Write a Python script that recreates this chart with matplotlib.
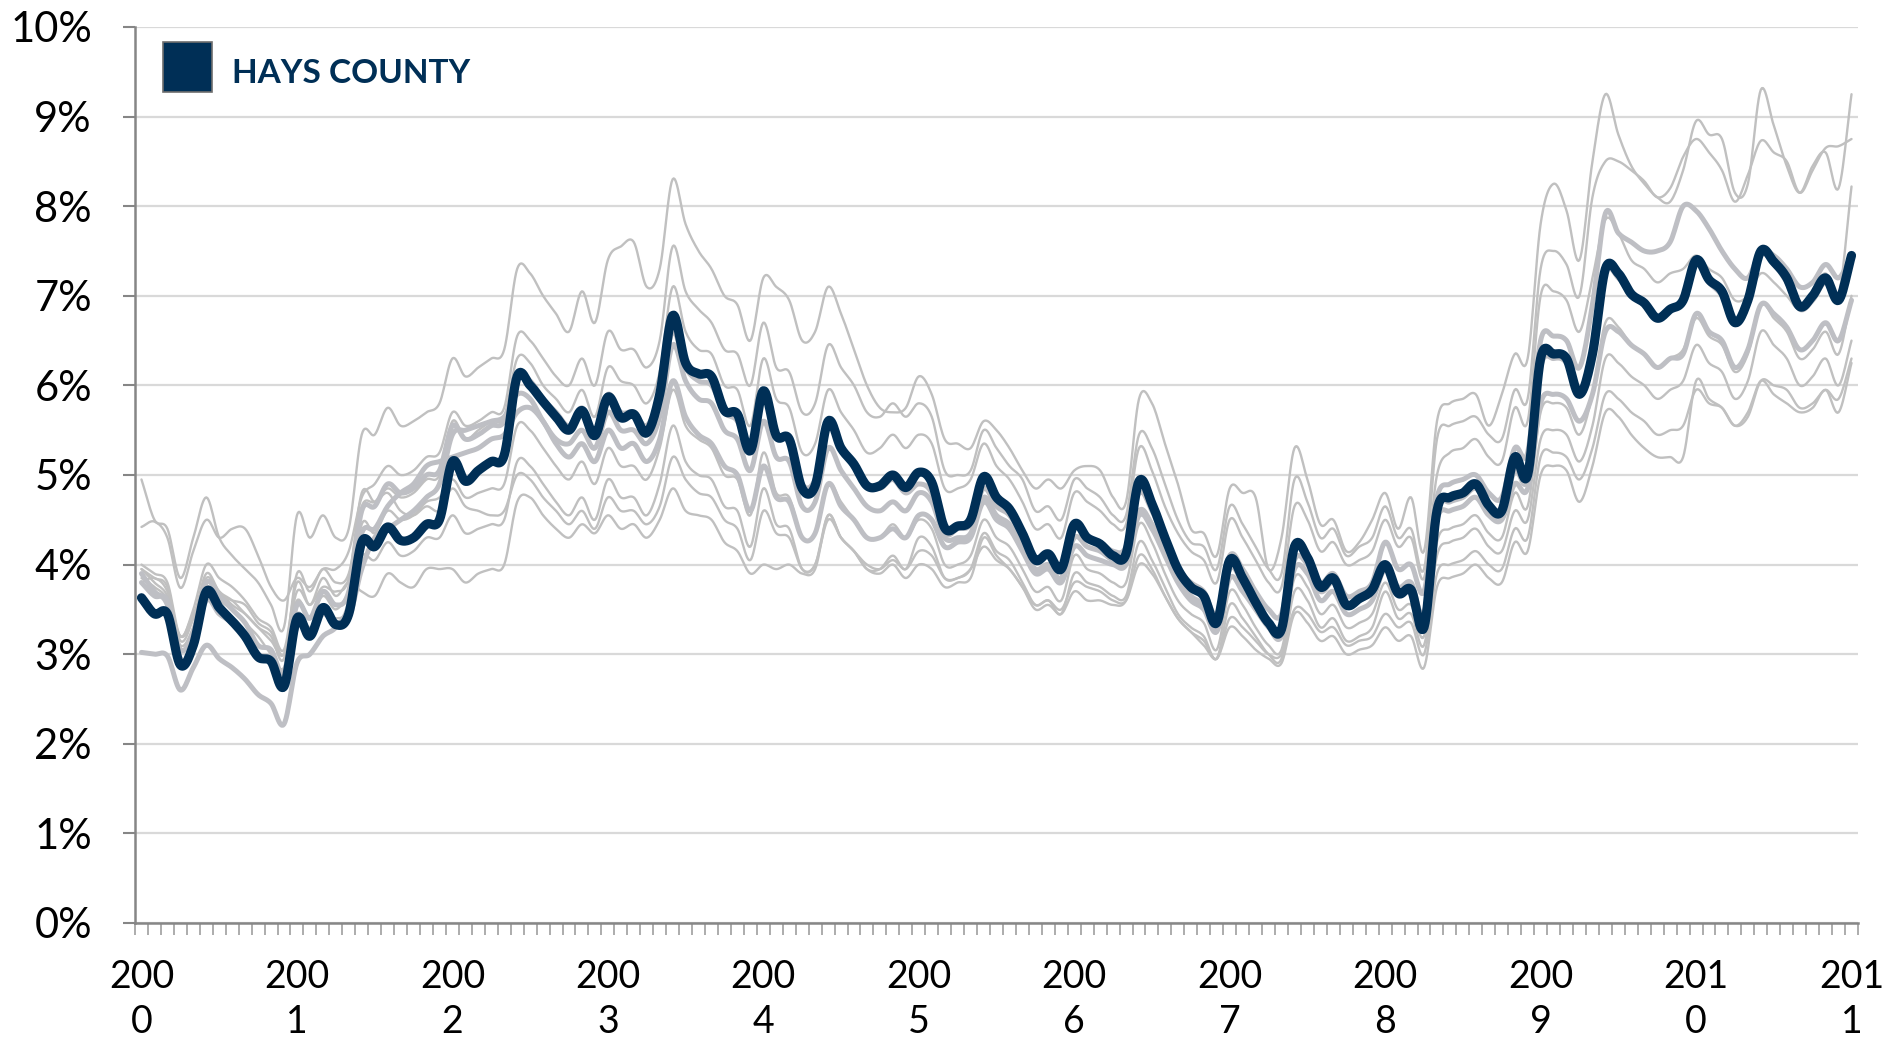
import numpy as np
import matplotlib
matplotlib.use("Agg")
import matplotlib.pyplot as plt
from matplotlib.patches import Rectangle

# monthly unemployment rate (%), Jan 2000 .. Jan 2011
years = [str(y) for y in range(2000, 2012)]

hays_county = [
    3.63, 3.45, 3.45, 2.88, 3.10, 3.70, 3.52, 3.37, 3.20, 2.97, 2.92, 2.64,
    3.40, 3.20, 3.52, 3.33, 3.45, 4.25, 4.20, 4.42, 4.27, 4.30, 4.45, 4.50,
    5.15, 4.93, 5.05, 5.15, 5.22, 6.10, 6.00, 5.82, 5.65, 5.50, 5.72, 5.44,
    5.87, 5.64, 5.68, 5.47, 5.90, 6.78, 6.25, 6.13, 6.10, 5.72, 5.68, 5.27,
    5.94, 5.44, 5.40, 4.85, 4.88, 5.60, 5.30, 5.12, 4.88, 4.88, 5.00, 4.86,
    5.03, 4.92, 4.41, 4.43, 4.50, 4.98, 4.75, 4.62, 4.35, 4.05, 4.12, 3.95,
    4.45, 4.30, 4.23, 4.10, 4.12, 4.93, 4.68, 4.30, 3.95, 3.75, 3.65, 3.35,
    4.05, 3.85, 3.58, 3.35, 3.28, 4.20, 4.08, 3.75, 3.85, 3.55, 3.62, 3.72,
    4.00, 3.68, 3.72, 3.30, 4.60, 4.75, 4.80, 4.90, 4.66, 4.60, 5.20, 5.00,
    6.30, 6.35, 6.30, 5.90, 6.35, 7.30, 7.25, 7.02, 6.92, 6.75, 6.85, 6.95,
    7.40, 7.18, 7.05, 6.70, 6.95, 7.50, 7.38, 7.20, 6.88, 7.00, 7.20, 6.95,
    7.45,
]

# other areas, thin grey lines
peer_1 = [
    4.95, 4.50, 4.40, 3.85, 4.30, 4.75, 4.30, 4.10, 3.95, 3.80, 3.55, 3.30,
    4.55, 4.30, 4.55, 4.30, 4.40, 5.45, 5.45, 5.75, 5.55, 5.60, 5.70, 5.80,
    6.30, 6.10, 6.20, 6.30, 6.40, 7.30, 7.25, 7.00, 6.80, 6.60, 7.05, 6.70,
    7.40, 7.55, 7.60, 7.10, 7.30, 8.30, 7.80, 7.50, 7.30, 7.00, 6.90, 6.50,
    7.20, 7.10, 6.95, 6.50, 6.60, 7.10, 6.80, 6.40, 6.00, 5.75, 5.70, 5.75,
    6.10, 5.90, 5.40, 5.35, 5.30, 5.60, 5.50, 5.30, 5.05, 4.85, 4.95, 4.85,
    5.05, 5.10, 5.05, 4.75, 4.70, 5.85, 5.80, 5.35, 4.90, 4.40, 4.35, 4.10,
    4.85, 4.80, 4.75, 3.95, 4.30, 5.30, 4.95, 4.45, 4.50, 4.15, 4.25, 4.50,
    4.80, 4.40, 4.75, 4.15, 5.60, 5.80, 5.85, 5.90, 5.55, 5.90, 6.35, 6.30,
    7.80, 8.25, 7.95, 7.40, 8.50, 9.25, 8.80, 8.45, 8.25, 8.10, 8.05, 8.40,
    8.95, 8.80, 8.75, 8.15, 8.25, 9.30, 8.90, 8.45, 8.15, 8.45, 8.60, 8.20,
    9.25,
]
peer_2 = [
    4.42, 4.48, 4.30, 3.74, 4.15, 4.50, 4.30, 4.40, 4.40, 4.10, 3.75, 3.60,
    3.85, 3.75, 3.95, 3.95, 4.15, 4.75, 4.90, 5.10, 5.00, 5.05, 5.20, 5.25,
    5.70, 5.55, 5.60, 5.70, 5.75, 6.55, 6.50, 6.30, 6.10, 6.00, 6.30, 6.00,
    6.60, 6.40, 6.40, 6.20, 6.50, 7.55, 7.05, 6.85, 6.70, 6.40, 6.35, 6.00,
    6.70, 6.20, 6.15, 5.70, 5.80, 6.45, 6.20, 6.00, 5.70, 5.65, 5.80, 5.65,
    5.80, 5.65, 5.05, 5.00, 5.05, 5.50, 5.30, 5.10, 4.95, 4.60, 4.65, 4.50,
    4.95, 4.85, 4.75, 4.55, 4.55, 5.45, 5.30, 4.90, 4.50, 4.25, 4.20, 3.95,
    4.65, 4.45, 4.20, 3.95, 3.90, 4.95, 4.70, 4.30, 4.40, 4.10, 4.20, 4.30,
    4.65, 4.30, 4.40, 3.95, 5.40, 5.55, 5.60, 5.65, 5.45, 5.40, 5.95, 5.85,
    7.30, 7.50, 7.35, 7.00, 8.10, 8.50, 8.50, 8.40, 8.28, 8.10, 8.20, 8.55,
    8.75, 8.60, 8.40, 8.05, 8.35, 8.73, 8.60, 8.50, 8.15, 8.40, 8.65, 8.67,
    8.75,
]
peer_3 = [
    3.95, 3.85, 3.75, 3.15, 3.40, 3.90, 3.70, 3.60, 3.45, 3.30, 3.20, 2.95,
    3.90, 3.70, 3.95, 3.80, 3.90, 4.65, 4.70, 4.85, 4.75, 4.80, 4.95, 5.00,
    5.60, 5.40, 5.50, 5.60, 5.65, 6.30, 6.25, 6.00, 5.85, 5.70, 5.95, 5.65,
    6.20, 6.05, 6.00, 5.80, 6.15, 7.10, 6.60, 6.40, 6.35, 6.00, 5.95, 5.55,
    6.30, 5.85, 5.75, 5.25, 5.35, 5.95, 5.70, 5.50, 5.25, 5.30, 5.45, 5.30,
    5.45, 5.35, 4.85, 4.85, 4.95, 5.35, 5.10, 4.95, 4.70, 4.40, 4.45, 4.30,
    4.80, 4.70, 4.60, 4.45, 4.45, 5.30, 5.05, 4.65, 4.35, 4.15, 4.05, 3.80,
    4.50, 4.30, 4.05, 3.80, 3.75, 4.65, 4.50, 4.15, 4.25, 4.00, 4.05, 4.15,
    4.50, 4.20, 4.30, 3.85, 5.00, 5.25, 5.30, 5.40, 5.20, 5.15, 5.75, 5.60,
    7.00, 7.05, 6.95, 6.60, 7.20, 7.85, 7.70, 7.40, 7.30, 7.15, 7.25, 7.30,
    7.45, 7.30, 7.20, 6.95, 7.00, 7.25, 7.15, 7.00, 6.85, 7.05, 7.25, 7.00,
    8.22,
]
peer_4 = [
    3.85, 3.75, 3.60, 3.10, 3.30, 3.75, 3.60, 3.50, 3.35, 3.20, 3.00, 2.85,
    3.45, 3.30, 3.50, 3.40, 3.55, 4.45, 4.35, 4.60, 4.50, 4.55, 4.70, 4.75,
    4.95, 4.75, 4.80, 4.85, 4.90, 5.55, 5.50, 5.30, 5.10, 4.95, 5.15, 4.90,
    5.30, 5.10, 5.10, 4.95, 5.30, 5.95, 5.55, 5.40, 5.30, 5.00, 4.95, 4.55,
    5.25, 4.80, 4.75, 4.30, 4.35, 4.90, 4.70, 4.50, 4.30, 4.30, 4.45, 4.30,
    4.50, 4.40, 4.00, 4.00, 4.10, 4.50, 4.30, 4.20, 3.95, 3.70, 3.75, 3.60,
    4.10, 3.95, 3.90, 3.80, 3.80, 4.45, 4.25, 3.90, 3.60, 3.45, 3.35, 3.05,
    3.70, 3.55, 3.30, 3.10, 3.05, 3.85, 3.75, 3.45, 3.55, 3.30, 3.35, 3.45,
    3.80, 3.50, 3.55, 3.20, 4.25, 4.40, 4.45, 4.55, 4.35, 4.30, 4.80, 4.65,
    5.70, 5.80, 5.75, 5.45, 5.90, 6.70, 6.65, 6.45, 6.35, 6.20, 6.30, 6.40,
    6.75, 6.55, 6.45, 6.15, 6.35, 6.90, 6.75, 6.60, 6.30, 6.40, 6.60, 6.35,
    7.00,
]
peer_5 = [
    3.95, 3.80, 3.65, 3.20, 3.40, 3.85, 3.70, 3.55, 3.45, 3.30, 3.15, 3.00,
    3.60, 3.40, 3.65, 3.50, 3.70, 4.10, 4.05, 4.25, 4.10, 4.15, 4.30, 4.30,
    4.55, 4.35, 4.40, 4.45, 4.50, 5.15, 5.10, 4.90, 4.70, 4.55, 4.75, 4.50,
    4.95, 4.75, 4.75, 4.55, 4.90, 5.55, 5.15, 5.00, 4.95, 4.65, 4.60, 4.20,
    4.85, 4.45, 4.40, 3.95, 4.00, 4.55, 4.30, 4.15, 3.95, 3.95, 4.10, 3.95,
    4.30, 4.20, 3.85, 3.85, 3.95, 4.35, 4.15, 4.05, 3.80, 3.55, 3.60, 3.45,
    3.90, 3.80, 3.75, 3.65, 3.65, 4.25, 4.05, 3.75, 3.45, 3.30, 3.20, 2.95,
    3.55, 3.40, 3.20, 3.00, 2.95, 3.70, 3.60, 3.30, 3.40, 3.15, 3.20, 3.30,
    3.70, 3.40, 3.45, 3.10, 4.10, 4.25, 4.30, 4.40, 4.20, 4.15, 4.60, 4.50,
    5.40, 5.50, 5.45, 5.15, 5.55, 6.30, 6.25, 6.10, 6.00, 5.85, 5.95, 6.05,
    6.45, 6.25, 6.15, 5.85, 6.05, 6.60, 6.45, 6.30, 6.00, 6.10, 6.30, 6.00,
    6.50,
]
peer_6 = [
    4.00, 3.90, 3.80, 3.20, 3.50, 4.00, 3.85, 3.75, 3.60, 3.40, 3.30, 3.05,
    3.80, 3.55, 3.85, 3.65, 3.80, 3.70, 3.65, 3.90, 3.80, 3.75, 3.95, 3.95,
    3.95, 3.80, 3.90, 3.95, 4.00, 4.70, 4.75, 4.55, 4.40, 4.30, 4.45, 4.35,
    4.55, 4.40, 4.45, 4.30, 4.50, 4.85, 4.60, 4.55, 4.50, 4.25, 4.15, 3.90,
    4.00, 3.95, 4.00, 3.90, 3.95, 4.55, 4.30, 4.15, 3.95, 3.90, 4.00, 3.85,
    4.00, 3.95, 3.75, 3.80, 3.85, 4.30, 4.10, 3.95, 3.75, 3.50, 3.55, 3.45,
    3.70, 3.60, 3.60, 3.55, 3.60, 4.10, 3.95, 3.65, 3.40, 3.25, 3.10, 2.95,
    3.30, 3.20, 3.05, 2.95, 2.90, 3.45, 3.35, 3.15, 3.20, 3.00, 3.05, 3.10,
    3.30, 3.15, 3.20, 2.85, 3.75, 3.85, 3.90, 4.00, 3.85, 3.80, 4.25, 4.15,
    5.00, 5.10, 5.05, 4.70, 5.10, 5.70, 5.65, 5.45, 5.30, 5.20, 5.20, 5.20,
    6.05, 5.85, 5.75, 5.55, 5.70, 6.05, 5.90, 5.80, 5.70, 5.75, 5.95, 5.70,
    6.25,
]
peer_7 = [
    3.80, 3.85, 3.70, 3.20, 3.45, 3.70, 3.65, 3.60, 3.55, 3.35, 3.25, 3.00,
    3.70, 3.55, 3.75, 3.70, 3.85, 4.80, 4.70, 4.80, 4.60, 4.55, 4.65, 4.60,
    4.85, 4.65, 4.60, 4.55, 4.60, 5.00, 4.95, 4.75, 4.60, 4.45, 4.60, 4.40,
    4.75, 4.60, 4.60, 4.45, 4.65, 5.20, 4.95, 4.80, 4.75, 4.50, 4.40, 4.05,
    4.60, 4.35, 4.30, 3.95, 4.00, 4.50, 4.30, 4.15, 4.00, 3.95, 4.05, 3.95,
    4.15, 4.10, 3.85, 3.85, 3.95, 4.20, 4.05, 3.95, 3.75, 3.55, 3.60, 3.50,
    3.80, 3.75, 3.70, 3.60, 3.60, 4.00, 3.90, 3.65, 3.40, 3.25, 3.15, 2.95,
    3.40, 3.30, 3.15, 3.00, 3.00, 3.50, 3.45, 3.25, 3.30, 3.10, 3.15, 3.20,
    3.45, 3.30, 3.35, 3.00, 3.90, 4.00, 4.05, 4.15, 4.00, 3.95, 4.40, 4.30,
    5.20, 5.25, 5.20, 4.95, 5.30, 5.90, 5.85, 5.70, 5.60, 5.45, 5.50, 5.55,
    5.95, 5.80, 5.75, 5.55, 5.65, 6.05, 6.00, 5.95, 5.75, 5.80, 5.95, 5.85,
    6.30,
]

# state / metro / national, thick grey lines
region_1 = [
    3.80, 3.65, 3.60, 3.05, 3.25, 3.80, 3.65, 3.50, 3.35, 3.10, 3.05, 2.80,
    3.55, 3.40, 3.70, 3.55, 3.70, 4.60, 4.65, 4.90, 4.80, 4.85, 5.00, 5.05,
    5.55, 5.40, 5.45, 5.55, 5.60, 6.10, 6.05, 5.85, 5.70, 5.55, 5.75, 5.50,
    5.90, 5.70, 5.70, 5.55, 5.90, 6.60, 6.20, 6.05, 6.00, 5.70, 5.60, 5.25,
    5.85, 5.45, 5.40, 4.90, 4.95, 5.55, 5.30, 5.10, 4.90, 4.85, 4.95, 4.80,
    4.90, 4.80, 4.35, 4.40, 4.45, 4.85, 4.65, 4.55, 4.30, 4.05, 4.10, 3.95,
    4.40, 4.30, 4.25, 4.15, 4.20, 4.80, 4.60, 4.25, 3.95, 3.80, 3.70, 3.45,
    4.10, 3.95, 3.70, 3.50, 3.45, 4.20, 4.10, 3.80, 3.90, 3.65, 3.70, 3.80,
    4.25, 3.95, 4.00, 3.70, 4.75, 4.90, 4.95, 5.00, 4.80, 4.75, 5.30, 5.25,
    6.50, 6.55, 6.50, 6.20, 6.90, 7.92, 7.70, 7.60, 7.50, 7.50, 7.60, 8.00,
    7.95, 7.75, 7.50, 7.30, 7.20, 7.50, 7.45, 7.30, 7.10, 7.15, 7.35, 7.20,
    7.45,
]
region_2 = [
    3.90, 3.70, 3.55, 2.95, 3.10, 3.60, 3.45, 3.35, 3.20, 3.00, 2.95, 2.70,
    3.30, 3.25, 3.45, 3.35, 3.40, 3.95, 4.30, 4.40, 4.50, 4.60, 4.75, 4.90,
    5.45, 5.50, 5.55, 5.60, 5.65, 5.90, 5.85, 5.60, 5.40, 5.35, 5.50, 5.30,
    5.70, 5.50, 5.50, 5.35, 5.65, 6.45, 6.05, 5.85, 5.80, 5.50, 5.40, 5.05,
    5.60, 5.20, 5.15, 4.65, 4.70, 5.30, 5.05, 4.85, 4.65, 4.60, 4.70, 4.60,
    4.80, 4.70, 4.30, 4.30, 4.35, 4.75, 4.55, 4.45, 4.20, 3.95, 4.00, 3.85,
    4.30, 4.20, 4.15, 4.05, 4.05, 4.60, 4.45, 4.15, 3.85, 3.65, 3.55, 3.30,
    3.95, 3.80, 3.55, 3.35, 3.30, 4.05, 4.00, 3.70, 3.80, 3.55, 3.60, 3.70,
    4.00, 3.75, 3.80, 3.45, 4.60, 4.70, 4.75, 4.85, 4.65, 4.55, 5.05, 4.95,
    6.20, 6.30, 6.25, 5.90, 6.30, 7.25, 7.20, 7.00, 6.90, 6.75, 6.85, 6.95,
    7.35, 7.15, 7.00, 6.70, 6.90, 7.45, 7.35, 7.15, 6.85, 6.95, 7.15, 6.95,
    7.45,
]
region_3 = [
    3.02, 3.00, 2.98, 2.60, 2.85, 3.10, 2.95, 2.85, 2.72, 2.55, 2.45, 2.22,
    2.90, 3.00, 3.20, 3.30, 3.55, 4.35, 4.40, 4.65, 4.80, 4.90, 5.10, 5.15,
    5.20, 5.25, 5.30, 5.40, 5.45, 5.70, 5.75, 5.60, 5.35, 5.20, 5.35, 5.15,
    5.50, 5.30, 5.35, 5.15, 5.40, 6.05, 5.65, 5.45, 5.35, 5.10, 5.00, 4.60,
    5.10, 4.75, 4.70, 4.30, 4.35, 4.90, 4.65, 4.50, 4.30, 4.30, 4.40, 4.30,
    4.55, 4.50, 4.20, 4.25, 4.30, 4.70, 4.50, 4.40, 4.15, 3.90, 3.95, 3.80,
    4.20, 4.10, 4.05, 4.00, 4.00, 4.55, 4.40, 4.10, 3.80, 3.60, 3.50, 3.25,
    3.85, 3.70, 3.50, 3.30, 3.20, 3.95, 3.90, 3.60, 3.70, 3.45, 3.50, 3.60,
    3.95, 3.70, 3.75, 3.45, 4.50, 4.60, 4.65, 4.75, 4.55, 4.50, 4.90, 4.85,
    5.80, 5.90, 5.85, 5.60, 5.90, 6.60, 6.60, 6.45, 6.35, 6.20, 6.30, 6.35,
    6.80, 6.60, 6.50, 6.20, 6.40, 6.90, 6.80, 6.65, 6.40, 6.50, 6.70, 6.50,
    6.95,
]

thin_lines = [peer_1, peer_2, peer_3, peer_4, peer_5, peer_6, peer_7]
thick_lines = [region_1, region_2, region_3]

NAVY = "#002F56"
GREY = "#C0C0C0"
AXIS = "#868686"


def smooth(vals, steps=12):
    # excel style smoothed line (catmull-rom through the points)
    y = np.asarray(vals, dtype=float)
    p = np.concatenate([[2 * y[0] - y[1]], y, [2 * y[-1] - y[-2]]])
    t = np.linspace(0, 1, steps, endpoint=False)
    xs, ys = [], []
    for k in range(len(y) - 1):
        p0, p1, p2, p3 = p[k], p[k + 1], p[k + 2], p[k + 3]
        ys.append(0.5 * (2 * p1 + (p2 - p0) * t
                         + (2 * p0 - 5 * p1 + 4 * p2 - p3) * t ** 2
                         + (3 * p1 - p0 - 3 * p2 + p3) * t ** 3))
        xs.append(k + t)
    xs.append([len(y) - 1])
    ys.append([y[-1]])
    return np.concatenate(xs), np.concatenate(ys)


plt.rcParams['font.family'] = ['Lato', 'DejaVu Sans']

fig = plt.figure(figsize=(19.04, 10.39), dpi=100)
ax = fig.add_axes([135 / 1904, 1 - 923 / 1039, 1723 / 1904, 896 / 1039])

for s in thin_lines:
    x, y = smooth(s)
    ax.plot(x, y, color=GREY, lw=1.7, zorder=2, solid_capstyle='round')
for s in thick_lines:
    x, y = smooth(s)
    ax.plot(x, y, color="#BEBFC4", lw=3.6, zorder=3, solid_capstyle='round')

x, y = smooth(hays_county)
ax.plot(x, y, color=NAVY, lw=6.6, zorder=5, solid_capstyle='round',
        solid_joinstyle='round')

n = len(hays_county)
ax.set_xlim(-0.5, n - 0.5)
ax.set_ylim(0, 10)

ax.set_yticks(range(0, 11))
ax.set_yticklabels([f"{v}%" for v in range(0, 11)])
ax.yaxis.grid(True, color="#D9D9D9", lw=1.6)
ax.set_axisbelow(True)

ax.set_xticks(range(0, n, 12))
ax.set_xticklabels([yr[:3] + "\n" + yr[3:] for yr in years])
ax.set_xticks(np.arange(-0.5, n, 1), minor=True)

ax.tick_params(axis='y', which='major', length=9, width=1.5, color=AXIS,
               labelsize=30, pad=22)
ax.tick_params(axis='x', which='major', length=0, labelsize=27, pad=26)
ax.tick_params(axis='x', which='minor', length=8.5, width=1.3, color="#A6A6A6")
for lab in ax.get_xticklabels():
    lab.set_linespacing(1.32)

for side in ['top', 'right']:
    ax.spines[side].set_visible(False)
for side in ['left', 'bottom']:
    ax.spines[side].set_color(AXIS)
    ax.spines[side].set_linewidth(1.8)

# legend box
ax.add_patch(Rectangle((0.0163, 0.928), 0.0284, 0.055, transform=ax.transAxes,
                       facecolor=NAVY, edgecolor="#6E6E6E", lw=1.2,
                       clip_on=False, zorder=6))
ax.text(0.0563, 0.948, "HAYS COUNTY", transform=ax.transAxes, color=NAVY,
        fontsize=24, fontweight='bold', va='center', ha='left', zorder=6)

fig.savefig("out.png", dpi=100)
